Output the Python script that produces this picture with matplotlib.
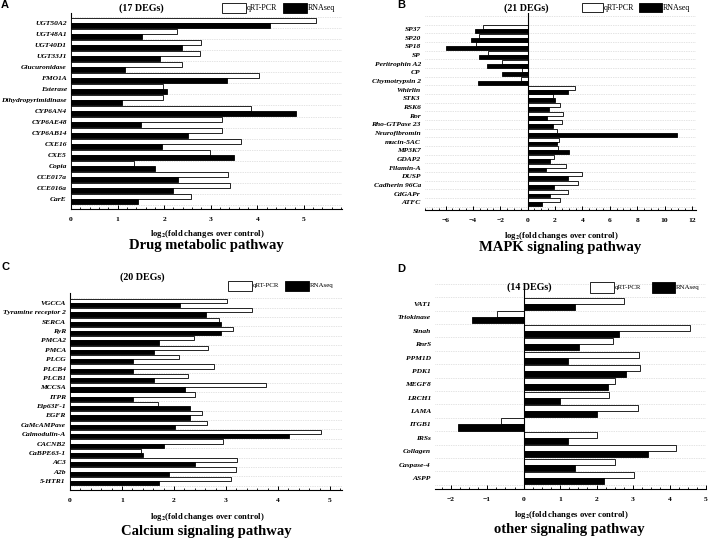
import matplotlib
matplotlib.use('Agg')
import matplotlib.pyplot as plt
from matplotlib.ticker import MultipleLocator
from matplotlib.patches import Rectangle

W, H = 708, 538
plt.rcParams['font.family'] = ['Liberation Serif', 'DejaVu Serif']
plt.rcParams['mathtext.fontset'] = 'stix'

# ---------------- data ----------------
genes_A = ['UGT50A2', 'UGT48A1', 'UGT40D1', 'UGT33J1', 'Glucuronidase', 'FMO1A', 'Esterase',
           'Dihydropyrimidinase', 'CYP6AN4', 'CYP6AE48', 'CYP6AB14', 'CXE16', 'CXE5', 'Copia',
           'CCE017a', 'CCE016a', 'CarE']
qpcr_A = [5.26, 2.28, 2.80, 2.77, 2.39, 4.04, 1.97, 1.98, 3.86, 3.25, 3.25, 3.65, 2.99, 1.36, 3.38, 3.41, 2.58]
rnaseq_A = [4.27, 1.53, 2.39, 1.92, 1.17, 3.35, 2.07, 1.09, 4.83, 1.51, 2.51, 1.96, 3.51, 1.80, 2.30, 2.20, 1.43]

genes_B = ['SP37', 'SP20', 'SP18', 'SP', 'Peritrophin A2', 'CP', 'Chymotrypsin 2', 'Whirlin', 'STK3',
           'RSK6', 'Ror', 'Rho-GTPase 23', 'Neurofibromin', 'mucin-5AC', 'MP3K7', 'GDAP2', 'Filamin-A',
           'DUSP', 'Cadherin 96Ca', 'CdGAPr', 'ATFC']
qpcr_B = [-3.24, -3.56, -3.80, -2.88, -1.85, -0.44, -0.46, 3.46, 1.83, 2.34, 2.61, 2.54, 2.15, 2.27,
          2.24, 1.90, 2.83, 3.95, 3.66, 2.98, 2.34]
rnaseq_B = [-3.83, -4.12, -5.98, -3.54, -2.95, -1.85, -3.63, 2.93, 2.02, 1.54, 1.44, 1.85, 10.93, 2.15,
            3.02, 1.66, 1.34, 2.93, 1.93, 1.66, 1.05]

genes_C = ['VGCCA', 'Tyramine receptor 2', 'SERCA', 'RyR', 'PMCA2', 'PMCA', 'PLCG', 'PLCB4', 'PLCB1',
           'MCCSA', 'ITPR', 'Eip63F-1', 'EGFR', 'CaMcAMPase', 'Calmodulin-A', 'CACNB2', 'CaBPE63-1',
           'AC3', 'A2b', '5-HTR1']
qpcr_C = [3.01, 3.50, 2.87, 3.13, 2.39, 2.66, 2.09, 2.77, 2.27, 3.76, 2.40, 1.69, 2.54, 2.64, 4.82,
          2.94, 1.36, 3.22, 3.20, 3.10]
rnaseq_C = [2.11, 2.61, 2.91, 2.91, 1.71, 1.61, 1.21, 1.21, 1.61, 2.21, 1.21, 2.31, 2.31, 2.01, 4.22,
            1.81, 1.41, 2.41, 1.91, 1.71]

genes_D = ['VAT1', 'Triokinase', 'Sinah', 'RnrS', 'PPM1D', 'PDK1', 'MEGF8', 'LRCH1', 'LAMA', 'ITGB1',
           'IRSs', 'Collagen', 'Caspase-4', 'ASPP']
qpcr_D = [2.74, -0.74, 4.56, 2.46, 3.15, 3.19, 2.50, 2.35, 3.13, -0.61, 2.02, 4.17, 2.50, 3.02]
rnaseq_D = [1.41, -1.41, 2.61, 1.51, 1.21, 2.81, 2.30, 1.01, 2.01, -1.81, 1.21, 3.42, 1.40, 2.19]

# ---------------- figure ----------------
fig = plt.figure(figsize=(7.08, 5.38), dpi=100)


def fx(x):
    return x / W


def fy(y):
    return 1 - y / H


def panel(box, genes, q, r, xlim, ylim, major, minor, zero_axis):
    l, t, rr, b = box
    ax = fig.add_axes([fx(l), fy(b), (rr - l) / W, (b - t) / H])
    n = len(genes)
    ys = list(range(n))
    h = 0.45
    ax.barh([y - h / 2 for y in ys], q, height=h, color='white', edgecolor='black', linewidth=0.6, zorder=3)
    ax.barh([y + h / 2 for y in ys], r, height=h, color='black', edgecolor='black', linewidth=0.6, zorder=3)
    for k in range(-2, n):
        yy = k + 0.5
        if ylim[1] < yy < ylim[0]:
            ax.axhline(yy, color='#c8c8c8', lw=0.5, ls=(0, (1, 1.5)), zorder=1)
    ax.set_xlim(*xlim)
    ax.set_ylim(*ylim)
    ax.set_yticks(ys)
    ax.set_yticklabels(genes, fontsize=5.4, fontweight='bold', fontstyle='italic')
    ax.tick_params(axis='y', length=0, pad=3)
    ax.xaxis.set_major_locator(MultipleLocator(major))
    ax.xaxis.set_minor_locator(MultipleLocator(minor))
    ax.tick_params(axis='x', which='major', direction='in', length=3, width=0.7, labelsize=5.4, pad=6)
    ax.tick_params(axis='x', which='minor', direction='in', length=1.6, width=0.6)
    for lab in ax.get_xticklabels():
        lab.set_fontweight('bold')
    ax.spines['top'].set_visible(False)
    ax.spines['right'].set_visible(False)
    ax.spines['bottom'].set_linewidth(0.8)
    if zero_axis:
        ax.spines['left'].set_visible(False)
        ax.axvline(0, color='black', lw=0.8, zorder=4)
    else:
        ax.spines['left'].set_linewidth(0.8)
    ax.patch.set_alpha(0)
    return ax


panel((71, 13, 342, 209), genes_A, qpcr_A, rnaseq_A, (0, 5.82), (16.9, -0.9), 1, 0.2, False)
panel((425, 13, 696, 210), genes_B, qpcr_B, rnaseq_B, (-7.5, 12.3), (20.9, -1.85), 2, 0.5, True)
panel((70, 293, 342, 490), genes_C, qpcr_C, rnaseq_C, (0, 5.23), (19.96, -1.07), 1, 0.2, False)
panel((435, 283, 706, 489), genes_D, qpcr_D, rnaseq_D, (-2.43, 5.0), (13.82, -1.57), 1, 0.25, True)


def legend(xw, xt1, xb, xt2, xend, yt, yb, fs):
    fig.patches.append(Rectangle((fx(xw), fy(yb)), (xt1 - 1 - xw) / W, (yb - yt) / H,
                                 facecolor='white', edgecolor='black', lw=0.6, transform=fig.transFigure))
    fig.text(fx(xt1), fy((yt + yb) / 2), 'qRT-PCR', fontsize=fs, ha='left', va='center')
    fig.patches.append(Rectangle((fx(xb), fy(yb)), (xt2 - 1 - xb) / W, (yb - yt) / H,
                                 facecolor='black', edgecolor='black', lw=0.6, transform=fig.transFigure))
    fig.text(fx(xt2), fy((yt + yb) / 2), 'RNAseq', fontsize=fs, ha='left', va='center')


legend(222, 247, 283, 308, 338, 3, 13, 5.8)
legend(582, 604, 639, 663, 695, 3, 12, 5.8)
legend(228, 253, 285, 310, 340, 281, 291, 5.0)
legend(590, 615, 652, 676, 705, 282, 293, 5.0)

# headers
for (x, y, s) in [(141, 8, '(17 DEGs)'), (526, 8, '(21 DEGs)'), (142, 277, '(20 DEGs)'), (529, 287, '(14 DEGs)')]:
    fig.text(fx(x), fy(y), s, fontsize=7.2, fontweight='bold', ha='center', va='center')

xlab = r'log$_{\mathbf{2}}$(fold changes over control)'
for (x, y) in [(207, 234), (561, 236), (207, 517), (571, 515)]:
    fig.text(fx(x), fy(y), xlab, fontsize=6.2, fontweight='bold', ha='center', va='center')

for (x, y, s) in [(206, 246, 'Drug metabolic pathway'), (560, 248, 'MAPK signaling pathway'),
                  (206, 532, 'Calcium signaling pathway'), (569, 530, 'other signaling pathway')]:
    fig.text(fx(x), fy(y), s, fontsize=10.5, fontweight='bold', ha='center', va='center')

for (x, y, s) in [(1, 5, 'A'), (397, 5, 'B'), (1, 267, 'C'), (397, 269, 'D')]:
    fig.text(fx(x), fy(y), s, fontsize=8, fontweight='bold', ha='left', va='center',
             family=['Liberation Sans', 'DejaVu Sans'])

fig.savefig('out.png', dpi=100)
